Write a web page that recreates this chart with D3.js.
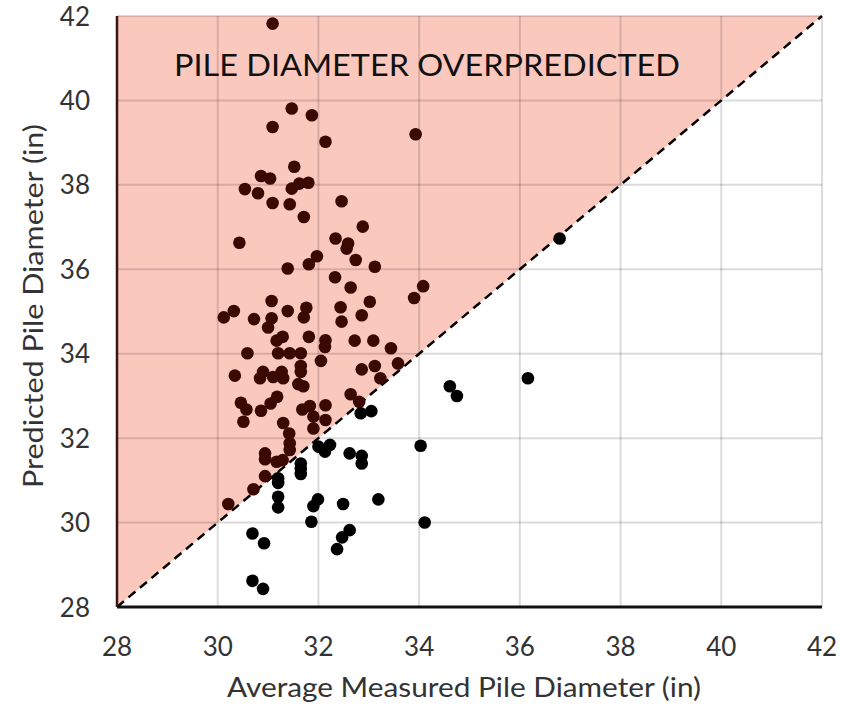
<!DOCTYPE html>
<html>
<head>
<meta charset="UTF-8">
<title>Pile diameter</title>
<script src="https://cdn.jsdelivr.net/npm/d3@7"></script>
<style>
  body { margin: 0; background: #fff; }
  text { font-family: Lato, "Noto Sans", sans-serif; }
</style>
</head>
<body>
<svg id="chart" width="850" height="708"></svg>
<script>
// axis ticks
var xTicks = [28, 30, 32, 34, 36, 38, 40, 42];
var yTicks = [28, 30, 32, 34, 36, 38, 40, 42];

// average measured diameter (in)
var measured = [
  31.09, 31.47, 31.87, 31.09, 32.14, 33.93, 31.52, 30.86, 31.04, 30.54,
  30.80, 31.47, 31.62, 31.80, 31.09, 31.43, 32.46, 31.71, 30.43, 32.88,
  32.34, 32.59, 32.56, 32.74, 31.97, 31.81, 31.39, 33.12, 32.33, 32.64,
  34.08, 33.90, 33.02, 31.07, 30.32, 30.12, 30.72, 31.39, 31.76, 31.71,
  31.07, 31.00, 32.44, 32.46, 32.86, 31.29, 31.17, 31.81, 32.14, 32.13,
  32.72, 33.09, 33.44, 30.59, 31.20, 31.43, 31.65, 32.05, 33.58, 32.86,
  33.12, 33.23, 30.34, 30.90, 30.84, 31.27, 31.10, 31.30, 31.65, 31.65,
  31.60, 31.70, 32.64, 32.81, 30.46, 30.57, 30.86, 31.05, 31.18, 31.68,
  31.83, 32.14, 30.51, 32.14, 31.90, 31.90, 31.30, 31.42, 31.43, 31.43,
  30.94, 30.94, 31.17, 31.29, 30.94, 30.71, 30.21,
  32.00, 32.23, 32.13, 32.62, 32.86, 32.86, 31.65, 31.65, 31.65, 31.20,
  31.20, 31.20, 31.20, 31.99, 31.90, 32.49, 31.86, 30.69, 30.92, 32.62,
  32.47, 32.37, 30.69, 30.90, 32.84, 33.05, 36.79, 34.61, 34.75, 36.16,
  34.03, 33.19, 34.11
];

// predicted diameter (in)
var predicted = [
  41.82, 39.81, 39.65, 39.37, 39.02, 39.20, 38.43, 38.21, 38.15, 37.90,
  37.80, 37.91, 38.03, 38.05, 37.57, 37.54, 37.61, 37.24, 36.63, 37.01,
  36.73, 36.61, 36.49, 36.22, 36.31, 36.12, 36.02, 36.06, 35.81, 35.57,
  35.60, 35.32, 35.23, 35.25, 35.01, 34.86, 34.82, 35.01, 35.09, 34.86,
  34.84, 34.62, 35.10, 34.76, 34.91, 34.40, 34.31, 34.40, 34.32, 34.16,
  34.31, 34.31, 34.13, 34.01, 34.01, 34.01, 34.01, 33.83, 33.77, 33.63,
  33.71, 33.42, 33.48, 33.57, 33.42, 33.57, 33.45, 33.42, 33.71, 33.57,
  33.28, 33.23, 33.04, 32.86, 32.84, 32.68, 32.65, 32.82, 32.98, 32.68,
  32.76, 32.78, 32.39, 32.43, 32.51, 32.23, 32.36, 32.11, 31.88, 31.72,
  31.64, 31.50, 31.44, 31.48, 31.10, 30.79, 30.44,
  31.80, 31.84, 31.68, 31.64, 31.58, 31.40, 31.40, 31.28, 31.15, 31.05,
  30.94, 30.61, 30.36, 30.55, 30.39, 30.44, 30.02, 29.74, 29.51, 29.82,
  29.65, 29.37, 28.62, 28.43, 32.59, 32.64, 36.73, 33.23, 33.00, 33.42,
  31.82, 30.55, 30.00
];

var svg = d3.select("#chart");
var plot = {left: 117, right: 822, top: 16, bottom: 607};

var x = d3.scaleLinear().domain([28, 42]).range([plot.left, plot.right]);
var y = d3.scaleLinear().domain([28, 42]).range([plot.bottom, plot.top]);

// shaded over-prediction triangle
svg.append("path")
  .attr("d", d3.line()([[x(28), y(28)], [x(28), y(42)], [x(42), y(42)]]) + "Z")
  .attr("fill", "#fbc8be");

// grid
svg.append("g").selectAll("line").data(xTicks.slice(1)).join("line")
  .attr("x1", d => x(d)).attr("x2", d => x(d))
  .attr("y1", y(28)).attr("y2", y(42))
  .attr("stroke", "#000").attr("stroke-opacity", 0.14).attr("stroke-width", 2);
svg.append("g").selectAll("line").data(yTicks.slice(1)).join("line")
  .attr("x1", x(28)).attr("x2", x(42))
  .attr("y1", d => y(d)).attr("y2", d => y(d))
  .attr("stroke", "#000").attr("stroke-opacity", 0.14).attr("stroke-width", 2);

// 1:1 line
svg.append("line")
  .attr("x1", x(28)).attr("y1", y(28)).attr("x2", x(42)).attr("y2", y(42))
  .attr("stroke", "#000").attr("stroke-width", 2.5).attr("stroke-dasharray", "9,6");

// axes lines
svg.append("line")
  .attr("x1", x(28)).attr("x2", x(28)).attr("y1", y(28)).attr("y2", y(42))
  .attr("stroke", "#3a1612").attr("stroke-width", 2.5);
svg.append("line")
  .attr("x1", x(28)).attr("x2", x(42)).attr("y1", y(28)).attr("y2", y(28))
  .attr("stroke", "#111").attr("stroke-width", 3);

// tick labels
svg.append("g").selectAll("text").data(xTicks).join("text")
  .attr("x", d => x(d)).attr("y", 656)
  .attr("text-anchor", "middle")
  .attr("font-size", 26).attr("fill", "#333")
  .text(d => d);
svg.append("g").selectAll("text").data(yTicks).join("text")
  .attr("x", 90).attr("y", d => y(d) + 9.5)
  .attr("text-anchor", "end")
  .attr("font-size", 26).attr("fill", "#333")
  .text(d => d);

// axis titles
svg.append("text")
  .attr("x", 464).attr("y", 697)
  .attr("text-anchor", "middle")
  .attr("font-size", 27).attr("fill", "#333")
  .attr("textLength", 474).attr("lengthAdjust", "spacingAndGlyphs")
  .text("Average Measured Pile Diameter (in)");
svg.append("text")
  .attr("transform", "translate(43,306) rotate(-90)")
  .attr("text-anchor", "middle")
  .attr("font-size", 27).attr("fill", "#333")
  .attr("textLength", 364).attr("lengthAdjust", "spacingAndGlyphs")
  .text("Predicted Pile Diameter (in)");

// region label
svg.append("text")
  .attr("x", 174).attr("y", 76)
  .attr("font-size", 31).attr("fill", "#111")
  .attr("textLength", 506).attr("lengthAdjust", "spacingAndGlyphs")
  .text("PILE DIAMETER OVERPREDICTED");

// points
var pts = measured.map((m, i) => ({m: m, p: predicted[i]}));
svg.append("g").selectAll("circle").data(pts).join("circle")
  .attr("cx", d => x(d.m)).attr("cy", d => y(d.p))
  .attr("r", 6.3)
  .attr("fill", d => d.p > d.m ? "#3a0a02" : "#000");
</script>
</body>
</html>
